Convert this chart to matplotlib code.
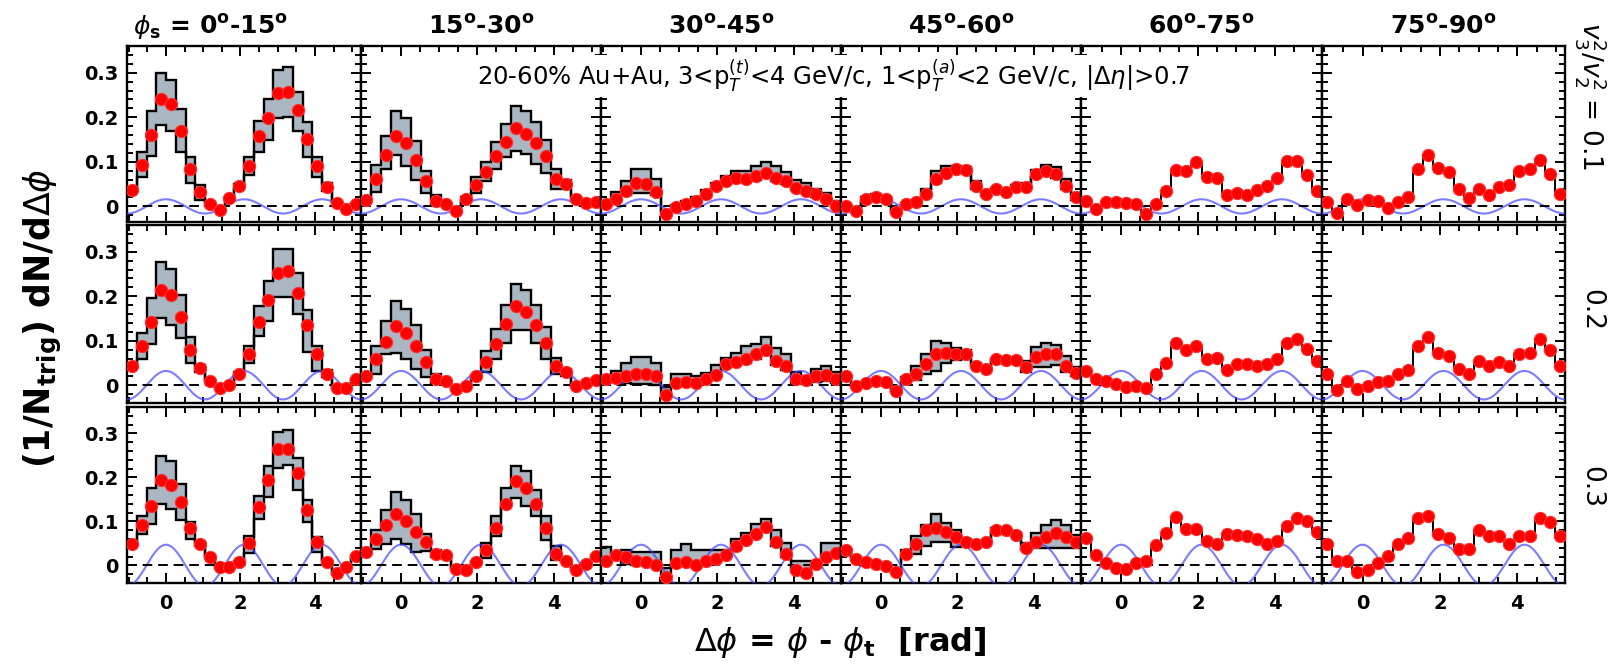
import numpy as np
import matplotlib
matplotlib.use('Agg')
import matplotlib.pyplot as plt
from matplotlib.ticker import MultipleLocator

# titulos de columnas (phi_s) y etiquetas de filas (v3^2/v2^2)
col_titles = ['0', '15', '30', '45', '60', '75', '90']
row_labels = ['0.1', '0.2', '0.3']
v3_amp = [0.016, 0.032, 0.047]   # amplitud de la curva azul por fila
xtick_vals = [0, 2, 4]
ytick_vals = [0, 0.1, 0.2, 0.3]
ytick_txt = ['0', '0.1', '0.2', '0.3']

# fila 1 (v3^2/v2^2 = 0.1)
y11 = [0.036, 0.093, 0.160, 0.240, 0.229, 0.170, 0.083, 0.033, 0.006, -0.007, 0.019, 0.045, 0.090, 0.158, 0.198, 0.254, 0.256, 0.216, 0.151, 0.090, 0.044, 0.008, -0.005, 0.006]
hi11 = [0.040, 0.123, 0.213, 0.299, 0.284, 0.218, 0.110, 0.049, 0.011, -0.005, 0.021, 0.050, 0.110, 0.192, 0.240, 0.307, 0.312, 0.257, 0.190, 0.112, 0.052, 0.010, -0.004, 0.007]
lo11 = [0.033, 0.066, 0.113, 0.183, 0.170, 0.123, 0.052, 0.015, 0.000, -0.009, 0.017, 0.040, 0.070, 0.122, 0.150, 0.198, 0.200, 0.170, 0.110, 0.065, 0.035, 0.005, -0.006, 0.005]
y12 = [0.014, 0.062, 0.116, 0.159, 0.142, 0.104, 0.057, 0.013, 0.005, -0.010, 0.016, 0.047, 0.078, 0.114, 0.144, 0.176, 0.162, 0.142, 0.113, 0.062, 0.050, 0.016, 0.007, 0.009]
hi12 = [0.016, 0.094, 0.159, 0.213, 0.198, 0.146, 0.079, 0.025, 0.007, -0.008, 0.020, 0.065, 0.100, 0.145, 0.185, 0.225, 0.215, 0.190, 0.150, 0.085, 0.060, 0.020, 0.009, 0.010]
lo12 = [0.012, 0.033, 0.085, 0.115, 0.090, 0.060, 0.030, 0.005, 0.003, -0.012, 0.012, 0.030, 0.058, 0.085, 0.110, 0.124, 0.118, 0.095, 0.075, 0.040, 0.040, 0.012, 0.005, 0.008]
y13 = [0.005, 0.017, 0.035, 0.052, 0.050, 0.033, -0.017, -0.002, 0.006, 0.013, 0.027, 0.046, 0.058, 0.063, 0.061, 0.068, 0.076, 0.064, 0.057, 0.042, 0.035, 0.027, 0.016, 0.001]
hi13 = [0.008, 0.033, 0.057, 0.083, 0.083, 0.061, -0.010, 0.004, 0.012, 0.022, 0.036, 0.052, 0.068, 0.079, 0.080, 0.090, 0.100, 0.090, 0.078, 0.060, 0.052, 0.040, 0.030, 0.012]
lo13 = [0.003, 0.010, 0.025, 0.031, 0.031, 0.025, -0.020, -0.005, 0.003, 0.008, 0.020, 0.040, 0.050, 0.055, 0.055, 0.060, 0.066, 0.056, 0.050, 0.036, 0.030, 0.022, 0.012, -0.002]
y14 = [0.002, -0.010, 0.016, 0.022, 0.016, -0.012, 0.005, 0.010, 0.028, 0.061, 0.076, 0.084, 0.081, 0.046, 0.028, 0.039, 0.033, 0.043, 0.043, 0.072, 0.080, 0.072, 0.046, 0.020]
hi14 = [0.004, -0.008, 0.020, 0.028, 0.020, -0.010, 0.008, 0.014, 0.040, 0.080, 0.091, 0.091, 0.088, 0.056, 0.032, 0.041, 0.036, 0.048, 0.052, 0.082, 0.092, 0.088, 0.062, 0.030]
lo14 = [0.000, -0.012, 0.012, 0.018, 0.012, -0.014, 0.002, 0.006, 0.020, 0.052, 0.068, 0.078, 0.076, 0.040, 0.024, 0.037, 0.030, 0.040, 0.038, 0.065, 0.072, 0.064, 0.040, 0.014]
y15 = [0.013, -0.006, 0.009, 0.010, 0.007, 0.005, -0.016, 0.005, 0.035, 0.082, 0.080, 0.099, 0.067, 0.063, 0.025, 0.031, 0.025, 0.037, 0.045, 0.063, 0.102, 0.102, 0.070, 0.035]
y16 = [0.010, -0.015, 0.016, 0.003, 0.015, 0.013, -0.004, 0.009, 0.020, 0.084, 0.115, 0.087, 0.078, 0.040, 0.018, 0.040, 0.025, 0.043, 0.048, 0.080, 0.084, 0.104, 0.072, 0.028]

# fila 2 (v3^2/v2^2 = 0.2)
y21 = [0.043, 0.089, 0.142, 0.213, 0.202, 0.153, 0.079, 0.038, 0.010, -0.006, 0.000, 0.026, 0.071, 0.142, 0.191, 0.253, 0.256, 0.207, 0.135, 0.071, 0.026, -0.006, -0.006, 0.013]
hi21 = [0.045, 0.118, 0.195, 0.276, 0.261, 0.202, 0.108, 0.045, 0.012, -0.004, 0.002, 0.030, 0.089, 0.177, 0.235, 0.306, 0.306, 0.253, 0.169, 0.089, 0.035, -0.004, -0.004, 0.015]
lo21 = [0.041, 0.058, 0.093, 0.150, 0.135, 0.107, 0.049, 0.030, 0.008, -0.008, -0.002, 0.022, 0.049, 0.110, 0.144, 0.198, 0.198, 0.159, 0.074, 0.032, 0.018, -0.008, -0.008, 0.011]
y22 = [0.020, 0.058, 0.097, 0.132, 0.118, 0.088, 0.052, 0.014, 0.009, -0.008, -0.001, 0.020, 0.052, 0.092, 0.137, 0.178, 0.165, 0.135, 0.095, 0.043, 0.029, -0.002, 0.005, 0.011]
hi22 = [0.022, 0.089, 0.144, 0.189, 0.171, 0.135, 0.080, 0.026, 0.011, -0.006, 0.001, 0.024, 0.077, 0.127, 0.180, 0.227, 0.215, 0.180, 0.130, 0.062, 0.037, 0.000, 0.007, 0.013]
lo22 = [0.018, 0.026, 0.069, 0.073, 0.058, 0.037, 0.018, 0.004, 0.007, -0.010, -0.003, 0.016, 0.030, 0.060, 0.095, 0.125, 0.125, 0.095, 0.060, 0.025, 0.020, -0.004, 0.003, 0.009]
y23 = [0.013, 0.017, 0.020, 0.026, 0.026, 0.020, -0.021, 0.005, 0.007, 0.005, 0.014, 0.024, 0.047, 0.052, 0.058, 0.069, 0.080, 0.054, 0.043, 0.014, 0.011, 0.020, 0.022, 0.014]
hi23 = [0.015, 0.032, 0.050, 0.064, 0.064, 0.049, -0.005, 0.026, 0.026, 0.020, 0.028, 0.045, 0.062, 0.073, 0.088, 0.092, 0.109, 0.084, 0.069, 0.030, 0.020, 0.037, 0.043, 0.029]
lo23 = [0.011, 0.008, 0.005, 0.003, 0.003, 0.000, -0.025, 0.002, 0.004, 0.002, 0.010, 0.020, 0.040, 0.045, 0.050, 0.060, 0.070, 0.045, 0.035, 0.005, 0.002, 0.008, 0.010, 0.005]
y24 = [0.020, -0.002, 0.005, 0.009, 0.007, -0.014, 0.013, 0.026, 0.047, 0.071, 0.073, 0.069, 0.069, 0.044, 0.037, 0.058, 0.056, 0.056, 0.040, 0.064, 0.069, 0.071, 0.044, 0.028]
hi24 = [0.022, 0.000, 0.007, 0.011, 0.009, -0.012, 0.018, 0.044, 0.071, 0.099, 0.095, 0.084, 0.078, 0.050, 0.040, 0.060, 0.058, 0.062, 0.055, 0.086, 0.095, 0.090, 0.065, 0.040]
lo24 = [0.018, -0.004, 0.003, 0.007, 0.005, -0.016, 0.008, 0.012, 0.026, 0.032, 0.050, 0.056, 0.060, 0.040, 0.034, 0.056, 0.054, 0.050, 0.030, 0.040, 0.040, 0.045, 0.030, 0.020]
y25 = [0.032, 0.013, 0.009, 0.002, -0.004, -0.002, -0.006, 0.026, 0.050, 0.094, 0.080, 0.089, 0.058, 0.062, 0.035, 0.047, 0.047, 0.043, 0.047, 0.058, 0.094, 0.103, 0.082, 0.054]
y26 = [0.026, -0.010, 0.009, -0.008, -0.002, 0.007, 0.009, 0.026, 0.035, 0.089, 0.109, 0.073, 0.065, 0.037, 0.026, 0.054, 0.043, 0.052, 0.043, 0.069, 0.073, 0.103, 0.079, 0.043]

# fila 3 (v3^2/v2^2 = 0.3)
y31 = [0.049, 0.091, 0.134, 0.195, 0.182, 0.144, 0.084, 0.048, 0.019, -0.004, -0.004, 0.008, 0.051, 0.133, 0.194, 0.264, 0.264, 0.210, 0.125, 0.053, 0.008, -0.017, -0.004, 0.021]
hi31 = [0.051, 0.112, 0.176, 0.249, 0.237, 0.185, 0.099, 0.053, 0.021, -0.002, -0.002, 0.010, 0.067, 0.157, 0.225, 0.304, 0.308, 0.243, 0.148, 0.065, 0.012, -0.015, -0.002, 0.023]
lo31 = [0.047, 0.071, 0.093, 0.140, 0.129, 0.103, 0.061, 0.043, 0.017, -0.006, -0.006, 0.006, 0.028, 0.106, 0.156, 0.222, 0.228, 0.172, 0.099, 0.030, 0.004, -0.019, -0.006, 0.019]
y32 = [0.030, 0.061, 0.091, 0.116, 0.101, 0.076, 0.053, 0.027, 0.023, -0.008, -0.011, 0.008, 0.034, 0.086, 0.140, 0.192, 0.175, 0.139, 0.086, 0.025, 0.011, -0.011, 0.004, 0.021]
hi32 = [0.032, 0.080, 0.125, 0.167, 0.148, 0.116, 0.071, 0.035, 0.025, -0.006, -0.009, 0.010, 0.051, 0.112, 0.176, 0.226, 0.214, 0.172, 0.112, 0.043, 0.015, -0.009, 0.006, 0.023]
lo32 = [0.028, 0.038, 0.048, 0.061, 0.048, 0.030, 0.032, 0.020, 0.021, -0.010, -0.013, 0.006, 0.017, 0.066, 0.134, 0.154, 0.134, 0.112, 0.057, 0.012, 0.007, -0.013, 0.002, 0.019]
y33 = [0.011, 0.023, 0.019, 0.011, 0.008, 0.000, -0.027, 0.005, 0.008, 0.000, 0.011, 0.015, 0.023, 0.043, 0.057, 0.072, 0.087, 0.053, 0.027, -0.010, -0.017, 0.004, 0.019, 0.028]
hi33 = [0.042, 0.027, 0.036, 0.030, 0.030, 0.030, -0.005, 0.036, 0.048, 0.036, 0.036, 0.036, 0.034, 0.061, 0.073, 0.095, 0.106, 0.080, 0.051, 0.011, 0.011, 0.011, 0.051, 0.051]
lo33 = [0.008, 0.018, 0.003, 0.000, 0.000, -0.004, -0.030, 0.000, 0.004, -0.004, 0.006, 0.010, 0.018, 0.036, 0.050, 0.064, 0.078, 0.045, 0.018, -0.015, -0.022, 0.000, 0.012, 0.020]
y34 = [0.036, 0.015, 0.008, 0.004, -0.002, -0.015, 0.027, 0.049, 0.080, 0.086, 0.076, 0.064, 0.053, 0.048, 0.053, 0.081, 0.080, 0.070, 0.040, 0.053, 0.064, 0.073, 0.064, 0.053]
hi34 = [0.038, 0.017, 0.010, 0.006, 0.000, -0.013, 0.034, 0.066, 0.091, 0.116, 0.096, 0.081, 0.060, 0.052, 0.056, 0.084, 0.083, 0.074, 0.050, 0.073, 0.091, 0.104, 0.091, 0.070]
lo34 = [0.034, 0.013, 0.006, 0.002, -0.004, -0.017, 0.022, 0.027, 0.045, 0.053, 0.053, 0.042, 0.046, 0.044, 0.050, 0.078, 0.077, 0.066, 0.035, 0.040, 0.040, 0.040, 0.040, 0.040]
y35 = [0.062, 0.024, 0.005, -0.006, -0.008, 0.005, 0.011, 0.047, 0.073, 0.111, 0.082, 0.082, 0.055, 0.049, 0.072, 0.070, 0.067, 0.060, 0.049, 0.055, 0.090, 0.108, 0.100, 0.077]
y36 = [0.049, 0.009, 0.011, -0.014, -0.010, 0.005, 0.022, 0.049, 0.062, 0.108, 0.113, 0.072, 0.062, 0.037, 0.037, 0.080, 0.066, 0.066, 0.049, 0.066, 0.067, 0.108, 0.098, 0.067]

pts = [[y11, y12, y13, y14, y15, y16],
       [y21, y22, y23, y24, y25, y26],
       [y31, y32, y33, y34, y35, y36]]
band_hi = [[hi11, hi12, hi13, hi14, None, None],
           [hi21, hi22, hi23, hi24, None, None],
           [hi31, hi32, hi33, hi34, None, None]]
band_lo = [[lo11, lo12, lo13, lo14, None, None],
           [lo21, lo22, lo23, lo24, None, None],
           [lo31, lo32, lo33, lo34, None, None]]

# bins de Delta phi: 24 bins en [-pi/3, 5pi/3]
edges = np.linspace(-np.pi/3, 5*np.pi/3, 25)
centros = 0.5*(edges[1:] + edges[:-1])
xs = np.linspace(edges[0], edges[-1], 400)

W, H = 1610, 667
col_x = [127, 361, 601, 841, 1081, 1322, 1565]
row_y = [(46, 222), (225, 403), (407, 583)]
ylims = [(-0.035, 0.36), (-0.04, 0.36), (-0.04, 0.36)]

fig = plt.figure(figsize=(W/100, H/100), dpi=100)

for r in range(3):
    for c in range(6):
        x0, x1 = col_x[c], col_x[c+1]
        t, b = row_y[r]
        ax = fig.add_axes([x0/W, 1-b/H, (x1-x0)/W, (b-t)/H])
        if band_hi[r][c] is not None:
            ax.stairs(band_hi[r][c], edges, baseline=band_lo[r][c], fill=True,
                      color='#aab6c1', lw=0, zorder=1)
            ax.stairs(band_hi[r][c], edges, baseline=None, color='k', lw=1.7, zorder=2)
            ax.stairs(band_lo[r][c], edges, baseline=None, color='k', lw=1.7, zorder=2)
        else:
            ax.stairs(pts[r][c], edges, baseline=None, color='k', lw=1.4, zorder=2)
        ax.plot(xs, v3_amp[r]*np.cos(3*xs), color='#4545ff', lw=1.5, alpha=0.7, zorder=3)
        ax.axhline(0, color='k', lw=1.4, ls=(0, (5, 3)), zorder=3)
        ax.plot(centros, pts[r][c], 'o', color='#ff0000', ms=8.8, mec='#ff3030', mew=0.8, zorder=4)
        ax.set_xlim(edges[0], edges[-1])
        ax.set_ylim(*ylims[r])
        ax.set_xticks(xtick_vals)
        ax.set_yticks(ytick_vals)
        ax.xaxis.set_minor_locator(MultipleLocator(0.5))
        ax.yaxis.set_minor_locator(MultipleLocator(0.02))
        ax.tick_params(which='both', direction='in', top=True, right=True, width=1.4)
        ax.tick_params(which='major', length=7)
        ax.tick_params(which='minor', length=4)
        for s in ax.spines.values():
            s.set_linewidth(1.7)
        if c == 0:
            ax.set_yticklabels(ytick_txt, fontsize=14, fontweight='bold')
            ax.tick_params(axis='y', pad=6)
        else:
            ax.tick_params(labelleft=False)
        if r == 2:
            ax.set_xticklabels([str(v) for v in xtick_vals], fontsize=14, fontweight='bold')
            ax.tick_params(axis='x', pad=8)
        else:
            ax.tick_params(labelbottom=False)

# titulos de columnas
for c in range(6):
    xc = 0.5*(col_x[c] + col_x[c+1])
    txt = col_titles[c] + r'$^{\mathbf{o}}$-' + col_titles[c+1] + r'$^{\mathbf{o}}$'
    fig.text(xc/W, 1-27/H, txt, ha='center', va='center', fontsize=18, fontweight='bold')
fig.text(133/W, 1-27/H, r'$\phi_{\mathbf{s}}$ =', ha='left', va='center', fontsize=18, fontweight='bold')

# texto de cabecera
fig.text(834/W, 1-76/H,
         r'20-60% Au+Au, 3<p$_T^{(t)}$<4 GeV/c, 1<p$_T^{(a)}$<2 GeV/c, |$\Delta\eta$|>0.7',
         ha='center', va='center', fontsize=17.5, zorder=10,
         bbox=dict(facecolor='white', edgecolor='none', pad=2))

# etiquetas de ejes
fig.text(43/W, 1-318/H, r'(1/N$_{\mathbf{trig}}$) dN/d$\Delta\phi$', rotation=90,
         ha='center', va='center', fontsize=25, fontweight='bold')
fig.text(840/W, 1-642/H, r'$\Delta\phi$ = $\phi$ - $\phi_{\mathbf{t}}$  [rad]',
         ha='center', va='center', fontsize=23, fontweight='bold')

# etiquetas de la derecha
fig.text(1591/W, 1-22/H, r'$v_3^2/v_2^2$ = 0.1', rotation=270, ha='center', va='top', fontsize=19)
fig.text(1591/W, 1-310/H, row_labels[1], rotation=270, ha='center', va='center', fontsize=19)
fig.text(1591/W, 1-487/H, row_labels[2], rotation=270, ha='center', va='center', fontsize=19)

plt.savefig('out.png', dpi=100)
plt.close()
